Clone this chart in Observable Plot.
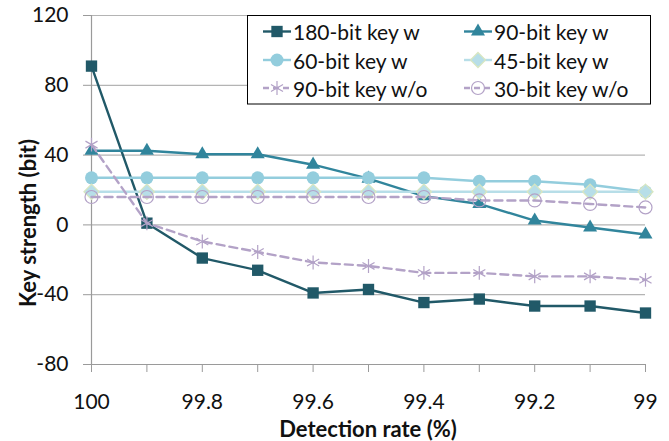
<!DOCTYPE html>
<html>
<head>
<meta charset="utf-8">
<script src="https://cdn.jsdelivr.net/npm/d3@7"></script>
<script src="https://cdn.jsdelivr.net/npm/@observablehq/plot@0.6"></script>
<style>
  html, body { margin: 0; padding: 0; background: #fff; }
  #chart { position: relative; width: 669px; height: 441px; }
  svg { font-family: Lato, "Open Sans", sans-serif; }
</style>
</head>
<body>
<div id="chart"></div>
<script>
// ---- data ----
const detectionRates = [100, 99.9, 99.8, 99.7, 99.6, 99.5, 99.4, 99.3, 99.2, 99.1, 99];
const xTickLabels = [100, 99.8, 99.6, 99.4, 99.2, 99];
const yTicks = [120, 80, 40, 0, -40, -80];

const seriesNames = ["180-bit key w", "90-bit key w", "60-bit key w", "45-bit key w", "90-bit key w/o", "30-bit key w/o"];
const key180w = [91, 1, -19, -26, -39, -37, -44.5, -42.5, -46.5, -46.5, -50.5];
const key90w = [42.5, 42.5, 40.5, 40.5, 34.5, 26.5, 16.5, 12, 2.5, -1.5, -5.5];
const key60w = [27, 27, 27, 27, 27, 27, 27, 25, 25, 23, 19];
const key45w = [19, 19, 19, 19, 19, 19, 19, 19, 19, 19, 19];
const key90wo = [46, 1, -9.5, -15.5, -21.5, -23.5, -27.5, -27.5, -29.5, -29.5, -31.5];
const key30wo = [16, 16, 16, 16, 16, 16, 16, 14, 14, 12, 10];
const seriesValues = [key180w, key90w, key60w, key45w, key90wo, key30wo];

// ---- styles ----
const styles = [
  {color: "#215968", symbol: "square", r: 6.4, fill: "#215968", stroke: "none", dash: null},
  {color: "#31859c", symbol: "triangle", r: 5.2, fill: "#31859c", stroke: "none", dash: null},
  {color: "#93cddd", symbol: "circle", r: 6.5, fill: "#93cddd", stroke: "none", dash: null},
  {color: "#b7dee8", symbol: "diamond2", r: 6.8, fill: "#b7dee8", stroke: "#d8e6c0", dash: null},
  {color: "#b3a2c7", symbol: "asterisk", r: 6.6, fill: "none", stroke: "#b3a2c7", dash: "8,5"},
  {color: "#b3a2c7", symbol: "circle", r: 6.5, fill: "none", stroke: "#b3a2c7", dash: "8,5"}
];

const FONT = 21;
const marks = [];
marks.push(Plot.ruleY(yTicks.filter(d => d !== -80), {stroke: "#b4b4b4", strokeWidth: 1.2}));
marks.push(Plot.ruleY([-80], {stroke: "#9a9a9a", strokeWidth: 1.2}));
marks.push(Plot.ruleX([100], {stroke: "#9a9a9a", strokeWidth: 1.2}));
marks.push(Plot.axisY({ticks: yTicks, tickSize: 8, tickPadding: 15, tickFormat: d => String(d), label: null, stroke: "#9a9a9a", fontSize: FONT, fill: "#111"}));
marks.push(Plot.axisX({ticks: detectionRates, tickSize: 8, tickFormat: () => "", label: null, stroke: "#9a9a9a"}));
marks.push(Plot.axisX({ticks: xTickLabels, tickSize: 0, tickPadding: 30, tickFormat: d => String(d), label: null, fontSize: FONT, fill: "#111"}));

seriesValues.forEach((vals, k) => {
  const rows = detectionRates.map((x, i) => ({x, y: vals[i]}));
  const s = styles[k];
  marks.push(Plot.line(rows, {x: "x", y: "y", stroke: s.color, strokeWidth: 2.4, strokeDasharray: s.dash}));
  marks.push(Plot.dot(rows, {x: "x", y: "y", symbol: () => s.symbol, r: s.r, fill: s.fill, stroke: s.stroke, strokeWidth: 1.2}));
});

const svg = Plot.plot({
  width: 669,
  height: 441,
  marginLeft: 91,
  marginRight: 24,
  marginTop: 15,
  marginBottom: 77,
  style: {fontFamily: "Lato, 'Open Sans', sans-serif", background: "#fff"},
  x: {domain: [100, 99]},
  y: {domain: [-80, 120]},
  symbol: {type: "identity"},
  marks
});

const g = d3.select(svg);
// axis titles
g.append("text").attr("x", 368).attr("y", 428).attr("text-anchor", "middle").attr("dominant-baseline", "central")
  .attr("font-size", 22).attr("font-weight", "bold").attr("fill", "#111").text("Detection rate (%)");
g.append("text").attr("transform", "translate(27,223) rotate(-90)").attr("text-anchor", "middle").attr("dominant-baseline", "central")
  .attr("font-size", 22).attr("font-weight", "bold").attr("fill", "#111").text("Key strength (bit)");

// legend
const lg = g.append("g").attr("text-anchor", "start");
lg.append("rect").attr("x", 247.5).attr("y", 15.5).attr("width", 403).attr("height", 88.5)
  .attr("fill", "#fff").attr("stroke", "#000").attr("stroke-width", 1);
const colX = [263, 464];
const rowY = [31.5, 60, 88];
const symMap = {square: d3.symbolSquare, triangle: d3.symbolTriangle, circle: d3.symbolCircle, diamond2: d3.symbolDiamond2, asterisk: d3.symbolAsterisk};
seriesNames.forEach((name, k) => {
  const s = styles[k];
  const x0 = colX[k % 2], y0 = rowY[Math.floor(k / 2)];
  lg.append("line").attr("x1", x0).attr("x2", x0 + 28).attr("y1", y0).attr("y2", y0)
    .attr("stroke", s.color).attr("stroke-width", 2.4).attr("stroke-dasharray", s.dash ? "6,4" : null);
  lg.append("path").attr("transform", `translate(${x0 + 14},${y0})`)
    .attr("d", d3.symbol(symMap[s.symbol], s.r * s.r * Math.PI)())
    .attr("fill", s.fill).attr("stroke", s.stroke).attr("stroke-width", 1.2);
  lg.append("text").attr("x", x0 + 30).attr("y", y0).attr("dominant-baseline", "central").attr("text-anchor", "start")
    .attr("font-size", FONT).attr("fill", "#111").text(name);
});

document.getElementById("chart").appendChild(svg);
</script>
</body>
</html>
